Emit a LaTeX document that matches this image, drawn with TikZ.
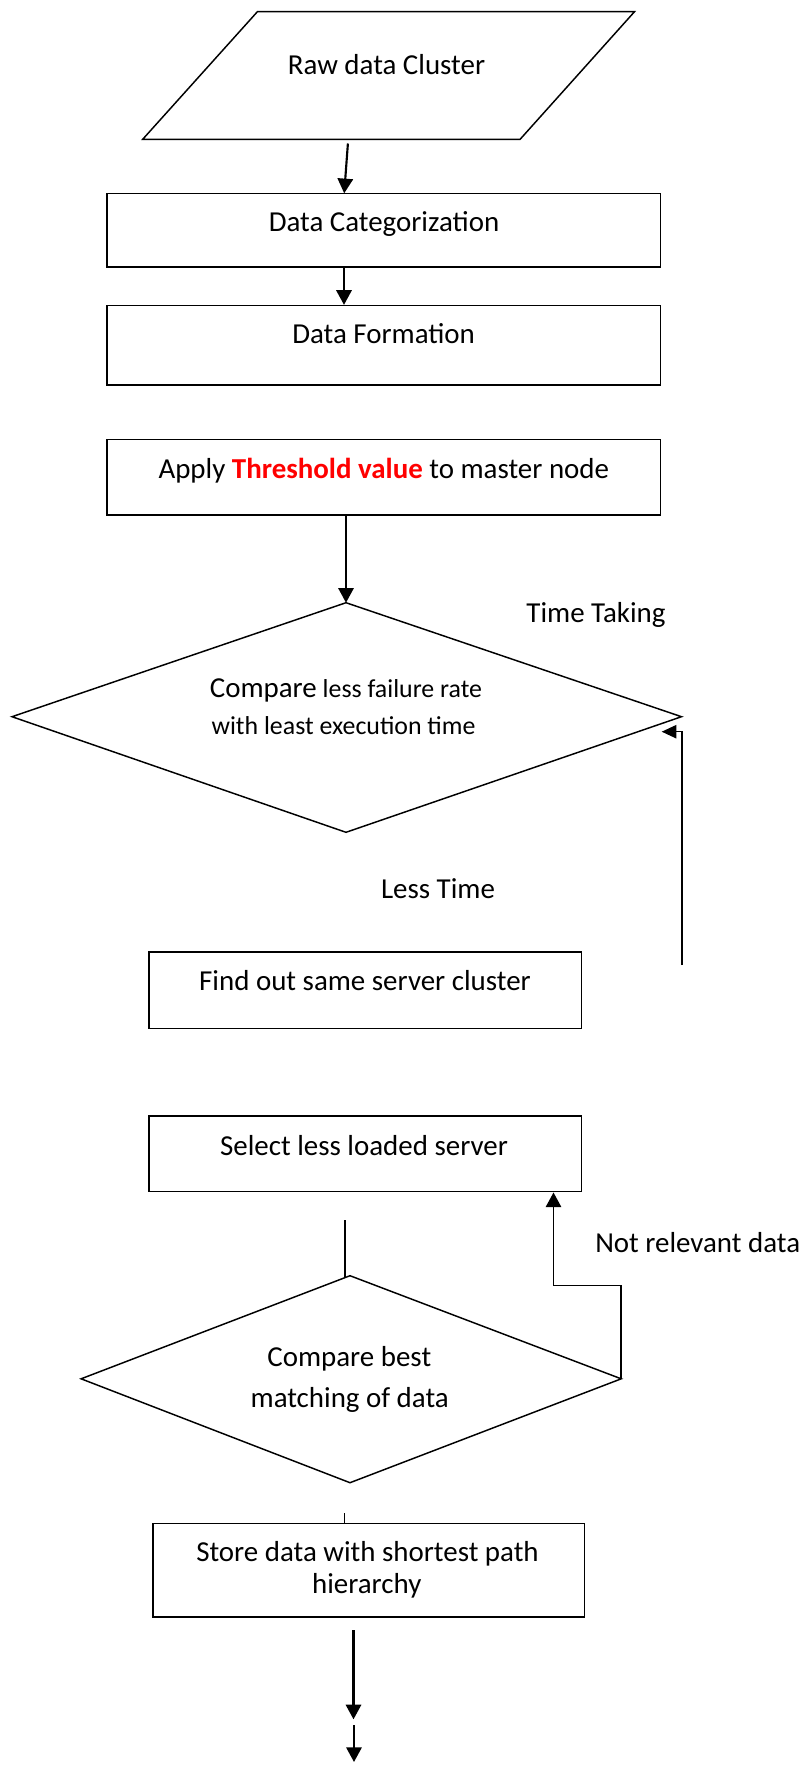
\documentclass[tikz,border=0pt]{standalone}
\usepackage{fontspec}
\setmainfont{Carlito}
\usetikzlibrary{arrows.meta}
\definecolor{thred}{RGB}{255,0,0}
\begin{document}
\begin{tikzpicture}[x=0.75pt,y=-0.75pt,
  box/.style 2 args={draw=black,line width=1.2pt,inner sep=0pt,
    minimum width=#1*0.75pt,minimum height=#2*0.75pt},
  shp/.style={draw=black,line width=1.1pt,line join=miter},
  txt/.style={inner sep=0pt,anchor=base,font=\fontsize{21.7}{26}\selectfont},
  stxt/.style={inner sep=0pt,anchor=base,font=\fontsize{19.4}{23.3}\selectfont},
  arr/.style={draw=black,line width=1.6pt,-{Triangle[length=11pt,width=11.5pt]}},
  arrthin/.style={draw=black,line width=1pt,-{Triangle[length=11pt,width=10pt]}},
  ln/.style={draw=black,line width=1.2pt}
]
\fill[white] (0,0) rectangle (804,1767);
\useasboundingbox (0,0) rectangle (804,1767);

% ---- Raw data cluster (parallelogram)
\coordinate (pTL) at (257.4,11.7);
\coordinate (pTR) at (634.5,11.7);
\coordinate (pBR) at (520.1,139.3);
\coordinate (pBL) at (142.7,139.3);
\draw[shp] (pTL) -- (pTR) -- (pBR) -- (pBL) -- cycle;
\node[txt] (traw) at (386.5,74) {Raw data Cluster};

% ---- boxes
\node[box={553.8}{73.4}] (b1) at (383.6,230) {};
\node[txt] (t1) at (384,231.7) {Data Categorization};

\node[box={553.8}{79.3}] (b2) at (383.6,345.3) {};
\node[txt] (t2) at (383.6,343) {Data Formation};

\node[box={553.7}{75.7}] (b3) at (383.7,477.2) {};
\node[txt] (t3) at (383.8,478.3) {Apply \textbf{\textcolor{thred}{Threshold value}} to master node};

% ---- decision 1
\coordinate (d1t) at (346,602.7);
\coordinate (d1r) at (681.5,716.7);
\coordinate (d1b) at (346,832.3);
\coordinate (d1l) at (12,716.7);
\draw[shp] (d1t) -- (d1r) -- (d1b) -- (d1l) -- cycle;
\node[stxt] (d1x1) at (346,697) {{\fontsize{21.7}{26}\selectfont Compare} less failure rate};
\node[stxt] (d1x2) at (343.5,734) {with least execution time};

\node[txt] (ltt) at (596,622) {Time Taking};
\node[txt] (lls) at (438,898.3) {Less Time};

\node[box={432.2}{76.6}] (b4) at (365.3,990) {};
\node[txt] (t4) at (365,990) {Find out same server cluster};

\node[box={432.1}{75.7}] (b5) at (365.3,1153.8) {};
\node[txt] (t5) at (364,1155) {Select less loaded server};

\node[txt,anchor=base west] (lnr) at (595,1252.7) {Not relevant data};

% ---- decision 2
\coordinate (d2t) at (350,1275.7);
\coordinate (d2r) at (621.2,1378.8);
\coordinate (d2b) at (350,1482.7);
\coordinate (d2l) at (81.1,1378.8);
\draw[shp] (d2t) -- (d2r) -- (d2b) -- (d2l) -- cycle;
\node[txt] (d2x1) at (349.3,1366.5) {Compare best};
\node[txt] (d2x2) at (349.7,1407) {matching of data};

\node[box={431.6}{93.4}] (b6) at (368.5,1570) {};
\node[txt] (t6a) at (367.5,1561.7) {Store data with shortest path};
\node[txt] (t6b) at (366.7,1593.3) {hierarchy};

% ---- connectors
\coordinate (a1s) at (347.9,143.5);
\coordinate (a1e) at (344.2,193.3);
\draw[arr] (a1s) -- (a1e);
\draw[arr] ([xshift=-29.7pt]b1.south) -- ([xshift=-29.7pt]b2.north);
\draw[arr] (b3.south -| d1t) -- (d1t);

\coordinate (fb0) at (682,965);
\coordinate (fb1) at (682,731.7);
\coordinate (fbe) at (661.7,731.7);
\draw[arrthin] (fb0) -- (fb1) -- (fbe);

\coordinate (nrA) at (621.2,1285.5);
\coordinate (nrB) at (553.5,1285.5);
\draw[arr,line width=1.4pt] (d2r) -- (nrA) -- (nrB) -- (nrB |- b5.south);

\coordinate (s1a) at (345,1220);
\coordinate (s1b) at (345,1276.5);
\draw[ln] (s1a) -- (s1b);

\coordinate (s2a) at (344.3,1513);
\draw[ln] (s2a) -- (s2a |- b6.north);

\coordinate (e1a) at (353.5,1630);
\coordinate (e1b) at (353.5,1719.3);
\draw[arr] (e1a) -- (e1b);
\coordinate (e2a) at (354,1725);
\coordinate (e2b) at (354,1762);
\draw[arr] (e2a) -- (e2b);
\end{tikzpicture}
\end{document}
